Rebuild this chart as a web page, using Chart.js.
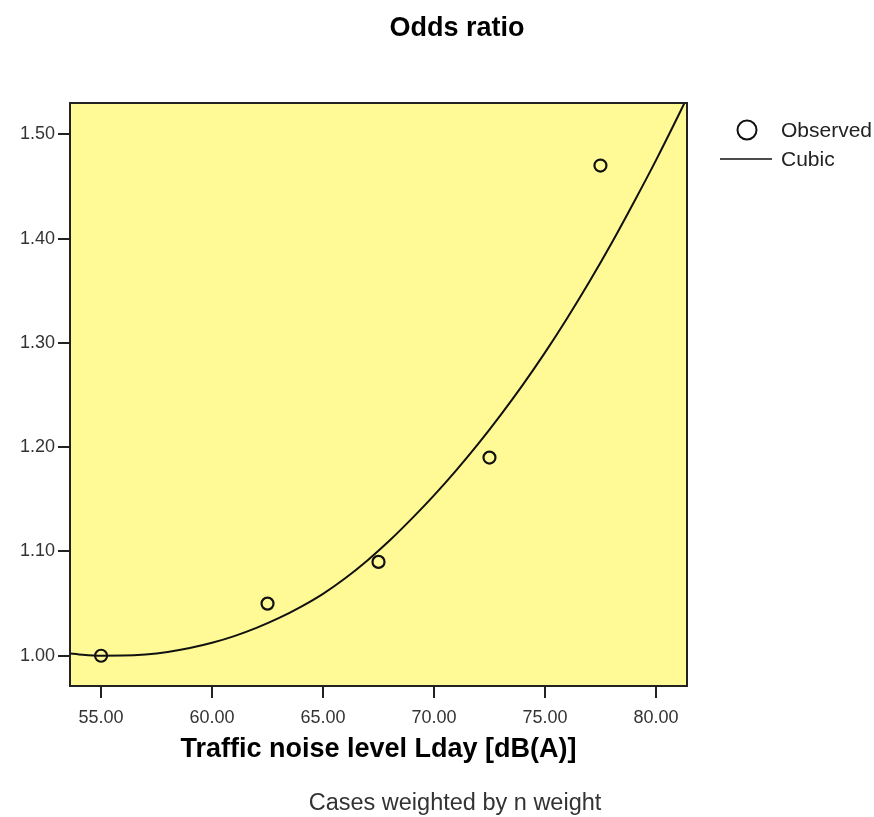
<!DOCTYPE html>
<html>
<head>
<meta charset="utf-8">
<script src="https://cdn.jsdelivr.net/npm/chart.js@4.4.0/dist/chart.umd.min.js"></script>
<style>
  html, body { margin: 0; padding: 0; background: #fff; }
  #wrap { width: 874px; height: 817px; }
</style>
</head>
<body>
<div id="wrap"><canvas id="c" width="874" height="817"></canvas></div>
<script>
// observed odds ratios
const obsX = [55, 62.5, 67.5, 72.5, 77.5];
const obsY = [1.00, 1.05, 1.09, 1.19, 1.47];

// cubic fit line
const curveX = [53.6, 54, 55, 56, 57, 58, 59, 60, 61, 62, 63, 64, 65, 66, 67, 68, 69, 70, 71, 72, 73, 74, 75, 76, 77, 78, 79, 80, 81, 81.4];
const curveY = [1.0021, 1.0013, 1.0001, 1.0002, 1.0013, 1.0037, 1.0074, 1.0124, 1.0188, 1.0267, 1.0360, 1.0469, 1.0594, 1.0743, 1.0914, 1.1105, 1.1315, 1.1538, 1.1778, 1.2034, 1.2308, 1.2598, 1.2907, 1.3237, 1.3586, 1.3955, 1.4346, 1.4750, 1.5175, 1.5350];

const xTicks = [55, 60, 65, 70, 75, 80];
const yTicks = [1.0, 1.1, 1.2, 1.3, 1.4, 1.5];

const FONT = '"Liberation Sans", Arial, sans-serif';

const bgPlugin = {
  id: 'bg',
  beforeDatasetsDraw(chart) {
    const { ctx, chartArea: a } = chart;
    ctx.save();
    ctx.fillStyle = '#fffa96';
    ctx.fillRect(a.left, a.top, a.right - a.left, a.bottom - a.top);
    ctx.restore();
  },
  afterDatasetsDraw(chart) {
    const { ctx, chartArea: a } = chart;
    ctx.save();
    ctx.strokeStyle = '#222';
    ctx.lineWidth = 2;
    ctx.strokeRect(a.left, a.top, a.right - a.left, a.bottom - a.top);
    ctx.restore();
  }
};

const textPlugin = {
  id: 'texts',
  afterDraw(chart) {
    const { ctx, chartArea: a } = chart;
    ctx.save();
    ctx.textBaseline = 'middle';
    ctx.textAlign = 'center';
    ctx.fillStyle = '#000';
    ctx.font = 'bold 27px ' + FONT;
    ctx.fillText('Odds ratio', 457, 29);
    ctx.fillText('Traffic noise level Lday [dB(A)]', (a.left + a.right) / 2, 750);
    ctx.fillStyle = '#333';
    ctx.font = '23.5px ' + FONT;
    ctx.fillText('Cases weighted by n weight', 455, 804);

    // legend
    ctx.textAlign = 'left';
    ctx.font = '21px ' + FONT;
    ctx.fillStyle = '#222';
    ctx.fillText('Observed', 781, 131);
    ctx.fillText('Cubic', 781, 160);
    ctx.strokeStyle = '#111';
    ctx.lineWidth = 2;
    ctx.beginPath();
    ctx.arc(747, 130, 9.5, 0, Math.PI * 2);
    ctx.stroke();
    ctx.lineWidth = 1.5;
    ctx.beginPath();
    ctx.moveTo(720, 159);
    ctx.lineTo(772, 159);
    ctx.stroke();
    ctx.restore();
  }
};

const tickFont = { family: FONT, size: 18 };

new Chart(document.getElementById('c'), {
  type: 'scatter',
  data: {
    datasets: [
      {
        label: 'Observed',
        data: obsX.map((x, i) => ({ x, y: obsY[i] })),
        pointRadius: 6,
        pointBorderWidth: 2.2,
        borderColor: '#111',
        backgroundColor: 'rgba(0,0,0,0)',
        order: 0
      },
      {
        label: 'Cubic',
        type: 'line',
        data: curveX.map((x, i) => ({ x, y: curveY[i] })),
        borderColor: '#111',
        borderWidth: 2,
        pointRadius: 0,
        cubicInterpolationMode: 'monotone',
        fill: false,
        order: 1
      }
    ]
  },
  options: {
    responsive: false,
    animation: false,
    layout: { padding: { top: 103, right: 187, bottom: 0, left: 0 } },
    plugins: { legend: { display: false }, tooltip: { enabled: false } },
    scales: {
      x: {
        type: 'linear',
        min: 53.6,
        max: 81.4,
        afterBuildTicks: s => { s.ticks = xTicks.map(v => ({ value: v })); },
        afterFit: s => { s.height = 131; },
        grid: { drawOnChartArea: false, tickLength: 12, color: '#222', lineWidth: 2 },
        border: { color: '#222', width: 2 },
        ticks: { callback: v => v.toFixed(2), font: tickFont, color: '#333', padding: 9, maxRotation: 0, autoSkip: false }
      },
      y: {
        min: 0.971,
        max: 1.530,
        afterBuildTicks: s => { s.ticks = yTicks.map(v => ({ value: v })); },
        afterFit: s => { s.width = 70; },
        grid: { drawOnChartArea: false, tickLength: 12, color: '#222', lineWidth: 2 },
        border: { color: '#222', width: 2 },
        ticks: { callback: v => v.toFixed(2), font: tickFont, color: '#333', padding: 3, autoSkip: false }
      }
    }
  },
  plugins: [bgPlugin, textPlugin]
});
</script>
</body>
</html>
